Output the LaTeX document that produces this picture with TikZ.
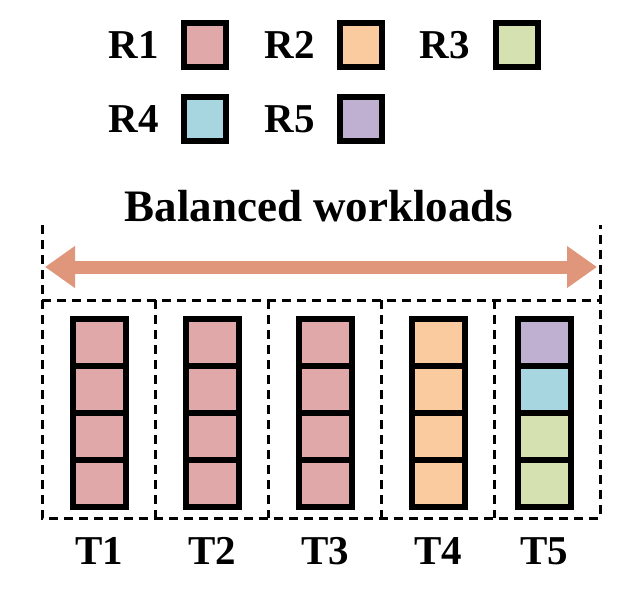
\documentclass[tikz,border=0pt]{standalone}
\usepackage{fontspec}
\setmainfont{Liberation Serif}
\usetikzlibrary{arrows.meta}
\definecolor{cA}{HTML}{E0A8A8}
\definecolor{cB}{HTML}{FBCBA0}
\definecolor{cC}{HTML}{D5E1B0}
\definecolor{cD}{HTML}{A8D6E0}
\definecolor{cE}{HTML}{BFB0D2}
\definecolor{arr}{HTML}{E0967A}
\begin{document}
\begin{tikzpicture}[x=1pt,y=-1pt,
 cell/.style={draw=black,line width=6pt,minimum width=53pt,minimum height=47pt,inner sep=0pt},
 leg/.style={draw=black,line width=5.5pt,minimum width=42pt,minimum height=44pt,inner sep=0pt},
 lbl/.style={font=\fontsize{41}{46}\selectfont\bfseries},
 dl/.style={line width=3pt,dash pattern=on 9pt off 6pt}]
\useasboundingbox (0,0) rectangle (640,606);
% legend
\node[lbl] (l1) at (134,45) {R1}; \node[leg,fill=cA] (b1) at (205,45) {};
\node[lbl] (l2) at (290,45) {R2}; \node[leg,fill=cB] (b2) at (361,45) {};
\node[lbl] (l3) at (445,45) {R3}; \node[leg,fill=cC] (b3) at (517,45) {};
\node[lbl] (l4) at (134,119) {R4}; \node[leg,fill=cD] (b4) at (205,119) {};
\node[lbl] (l5) at (290,119) {R5}; \node[leg,fill=cE] (b5) at (361,119) {};
\node[font=\fontsize{45}{50}\selectfont\bfseries] (title) at (319,206) {Balanced workloads};
% dashed frame
\draw[dl] (42,225) -- (42,518) -- (600,518) -- (600,225);
\draw[dl] (42,300) -- (600,300);
\foreach \x in {155,268,381,494} \draw[dl] (\x,300) -- (\x,518);
\coordinate (aL) at (45,267); \coordinate (aR) at (597,267);
\draw[arr,line width=13pt,{Triangle[length=30pt,width=40pt]}-{Triangle[length=30pt,width=40pt]}] (aL) -- (aR);
% stacks
\foreach \cx/\n/\ca/\cb/\cc/\cd in {99/1/cA/cA/cA/cA,212/2/cA/cA/cA/cA,325/3/cA/cA/cA/cA,438/4/cB/cB/cB/cB,544/5/cE/cD/cC/cC}{
 \node[cell,fill=\ca] (c\n a) at (\cx,342) {};
 \node[cell,fill=\cb] (c\n b) at (\cx,389) {};
 \node[cell,fill=\cc] (c\n c) at (\cx,436) {};
 \node[cell,fill=\cd] (c\n d) at (\cx,483) {};
 \node[lbl] (t\n) at (\cx,551) {T\n};
}
\end{tikzpicture}
\end{document}
